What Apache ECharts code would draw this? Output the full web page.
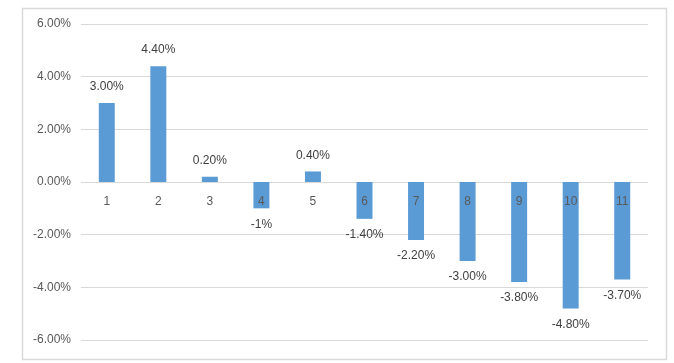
<!DOCTYPE html>
<html><head><meta charset="utf-8">
<script src="https://cdn.jsdelivr.net/npm/echarts@6/dist/echarts.min.js"></script>
<style>html,body{margin:0;padding:0;background:#fff}#c{width:674px;height:363px}</style>
</head><body><div id="c"></div>
<script>
var categories = ['1','2','3','4','5','6','7','8','9','10','11'];
var values = [3.0, 4.4, 0.2, -1.0, 0.4, -1.4, -2.2, -3.0, -3.8, -4.8, -3.7];
var valueLabels = ['3.00%','4.40%','0.20%','-1%','0.40%','-1.40%','-2.20%','-3.00%','-3.80%','-4.80%','-3.70%'];
var yTicks = [-6, -4, -2, 0, 2, 4, 6];

var font = 'Liberation Sans';
var chart = echarts.init(document.getElementById('c'), null, {renderer: 'canvas'});
chart.setOption({
  animation: false,
  graphic: [{
    type: 'rect', left: 20, top: 6, z: -1,
    shape: {width: 644, height: 351},
    style: {fill: 'none', stroke: '#d9d9d9', lineWidth: 1.5}
  }],
  grid: {left: 81, right: 26, top: 24, bottom: 23, containLabel: false},
  xAxis: {
    type: 'category', data: categories, z: 5, position: 'bottom', offset: -158,
    axisLine: {show: false, onZero: false},
    axisTick: {show: false},
    axisLabel: {color: '#595959', fontFamily: font, fontSize: 12, margin: 14}
  },
  yAxis: {
    type: 'value', min: yTicks[0], max: yTicks[yTicks.length - 1], interval: 2,
    axisLine: {show: false}, axisTick: {show: false},
    splitLine: {lineStyle: {color: '#d9d9d9', width: 1}},
    axisLabel: {color: '#595959', fontFamily: font, fontSize: 12, margin: 10,
      formatter: function (v) { return v.toFixed(2) + '%'; }}
  },
  series: [{
    type: 'bar', barWidth: '31%',
    itemStyle: {color: '#5b9bd5'},
    data: values.map(function (v, i) {
      return {value: v, label: {position: v >= 0 ? 'top' : 'bottom'}};
    }),
    label: {show: true, distance: 10, color: '#404040', fontFamily: font, fontSize: 12,
      formatter: function (p) { return valueLabels[p.dataIndex]; }}
  }]
});
</script></body></html>
